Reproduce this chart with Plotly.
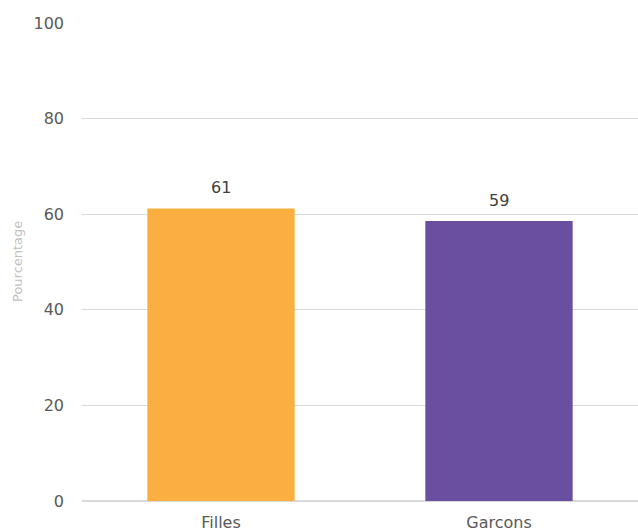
import plotly.graph_objects as go

categories = ["Filles", "Garcons"]
values = [61.2, 58.6]
bar_colors = ["#FBAF41", "#6A4FA0"]

FONT = "DejaVu Sans"

fig = go.Figure(
    go.Bar(
        x=categories,
        y=values,
        marker=dict(color=bar_colors, line=dict(width=0)),
        hoverinfo="skip",
    )
)

# value labels above each bar
for cat, val in zip(categories, values):
    fig.add_annotation(
        x=cat, y=val, text=f"{val:.0f}", showarrow=False,
        yanchor="bottom", yshift=9,
        font=dict(family=FONT, size=16, color="#404040"),
    )

# vertical axis title placed in the left margin
fig.add_annotation(
    xref="paper", yref="paper", x=0, y=0.5, xshift=-65,
    text="Pourcentage", textangle=-90, showarrow=False,
    xanchor="center", yanchor="middle",
    font=dict(family=FONT, size=13, color="#BFBFBF"),
)

fig.update_layout(
    width=638, height=532,
    margin=dict(l=82, r=0, t=23, b=31, autoexpand=False),
    paper_bgcolor="white", plot_bgcolor="white",
    bargap=0.47,
    showlegend=False,
    font=dict(family=FONT, size=16, color="#595959"),
    xaxis=dict(
        showgrid=False, showline=False, zeroline=False,
        tickfont=dict(family=FONT, size=16, color="#595959"),
        ticks="", ticklabelstandoff=10, automargin=False,
        fixedrange=True,
    ),
    yaxis=dict(
        range=[0, 100], dtick=20, tick0=0,
        showgrid=True, gridcolor="#D9D9D9", gridwidth=1.3,
        zeroline=True, zerolinecolor="#D9D9D9", zerolinewidth=1.6,
        showline=False, ticks="",
        ticklabelstandoff=17, automargin=False,
        tickfont=dict(family=FONT, size=16, color="#595959"),
        fixedrange=True,
    ),
)

fig.write_html("out.html")
